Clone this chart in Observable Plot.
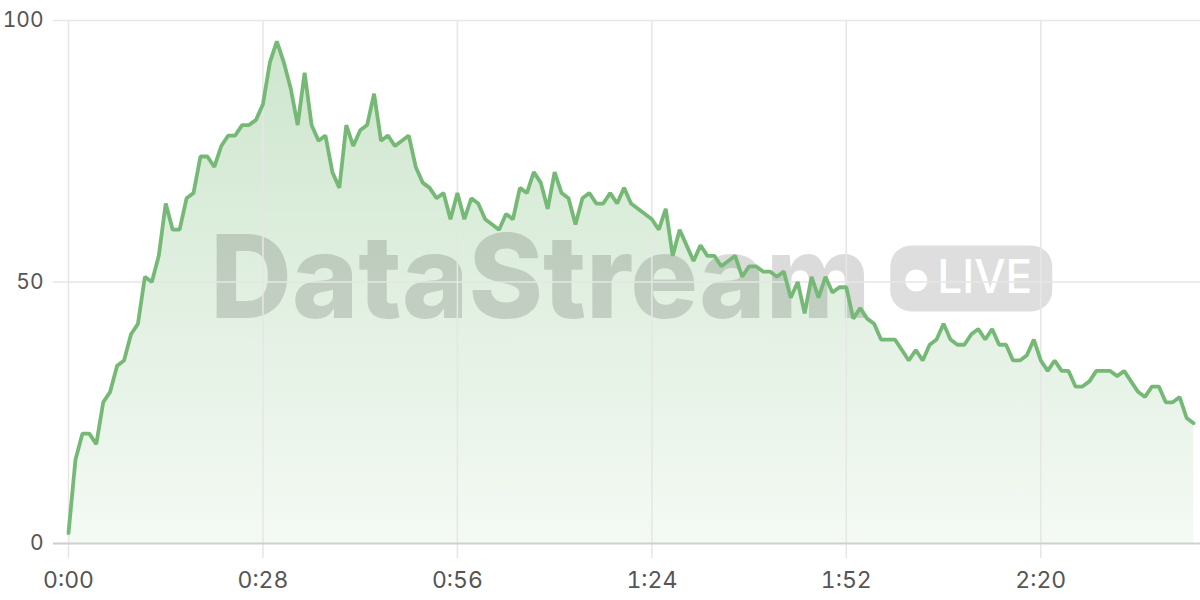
<!DOCTYPE html>
<html>
<head>
<meta charset="utf-8">
<script src="https://cdn.jsdelivr.net/npm/d3@7"></script>
<script src="https://cdn.jsdelivr.net/npm/@observablehq/plot@0.6"></script>
<style>
  html, body { margin: 0; padding: 0; background: #ffffff; }
  #chart { width: 1200px; height: 600px; }
</style>
</head>
<body>
<div id="chart"></div>
<script>
// elapsed seconds, one sample per second
const seconds = d3.range(0, 163);
const values = [
  2, 16, 21, 21, 19, 27, 29, 34, 35, 40,
  42, 51, 50, 55, 65, 60, 60, 66, 67, 74,
  74, 72, 76, 78, 78, 80, 80, 81, 84, 92,
  96, 92, 87, 80, 90, 80, 77, 78, 71, 68,
  80, 76, 79, 80, 86, 77, 78, 76, 77, 78,
  72, 69, 68, 66, 67, 62, 67, 62, 66, 65,
  62, 61, 60, 63, 62, 68, 67, 71, 69, 64,
  71, 67, 66, 61, 66, 67, 65, 65, 67, 65,
  68, 65, 64, 63, 62, 60, 64, 55, 60, 57,
  54, 57, 55, 55, 53, 54, 55, 51, 53, 53,
  52, 52, 51, 52, 47, 50, 44, 51, 47, 51,
  48, 49, 49, 43, 45, 43, 42, 39, 39, 39,
  37, 35, 37, 35, 38, 39, 42, 39, 38, 38,
  40, 41, 39, 41, 38, 38, 35, 35, 36, 39,
  35, 33, 35, 33, 33, 30, 30, 31, 33, 33,
  33, 32, 33, 31, 29, 28, 30, 30, 27, 27,
  28, 24, 23
];
const xTicks = [0, 28, 56, 84, 112, 140];
const xTickLabels = ["0:00", "0:28", "0:56", "1:24", "1:52", "2:20"];
const yTicks = [0, 50, 100];
const watermarkTitle = "DataStream";
const watermarkBadge = "LIVE";

const data = seconds.map((s, i) => ({ s, v: values[i] }));
const green = "#76b976";
const gridColor = "#e6e6e6";
const textColor = "#555555";

const defsMark = () => {
  const d = d3.create("svg:defs");
  const lg = d.append("linearGradient").attr("id", "areaGrad")
    .attr("x1", 0).attr("y1", 0).attr("x2", 0).attr("y2", 1);
  lg.append("stop").attr("offset", "0%").attr("stop-color", green).attr("stop-opacity", 0.36);
  lg.append("stop").attr("offset", "100%").attr("stop-color", green).attr("stop-opacity", 0.08);
  return d.node();
};

const watermarkMark = (index, scales) => {
  const g = d3.create("svg:g").attr("aria-label", "watermark").attr("text-anchor", "start");
  const x0 = scales.x(20.5), yb = scales.y(43);
  g.append("text")
    .attr("x", x0).attr("y", yb)
    .attr("text-anchor", "start")
    .attr("font-family", "Inter, 'DejaVu Sans', sans-serif")
    .attr("font-weight", 800)
    .attr("font-size", 116)
    .attr("textLength", 660)
    .attr("lengthAdjust", "spacingAndGlyphs")
    .attr("fill", "rgba(0,0,0,0.14)")
    .text(watermarkTitle);
  const px = scales.x(118.4), py = scales.y(56.9);
  g.append("rect")
    .attr("x", px).attr("y", py).attr("width", 162).attr("height", 66)
    .attr("rx", 21).attr("ry", 21)
    .attr("fill", "rgba(0,0,0,0.13)");
  g.append("circle")
    .attr("cx", px + 26).attr("cy", py + 35).attr("r", 11)
    .attr("fill", "#ffffff");
  g.append("text")
    .attr("x", px + 47).attr("y", py + 48)
    .attr("text-anchor", "start")
    .attr("font-family", "Inter, 'DejaVu Sans', sans-serif")
    .attr("font-weight", 500)
    .attr("font-size", 46)
    .attr("textLength", 95)
    .attr("lengthAdjust", "spacingAndGlyphs")
    .attr("fill", "#ffffff")
    .text(watermarkBadge);
  return g.node();
};

const chart = Plot.plot({
  width: 1200,
  height: 600,
  marginTop: 20,
  marginBottom: 57,
  marginLeft: 68,
  marginRight: 0,
  style: { fontFamily: "Inter, 'Noto Sans', sans-serif", fontSize: "21px", background: "#ffffff", color: textColor },
  x: { domain: [0, 163], axis: null, label: null },
  y: { domain: [0, 100], axis: null, label: null },
  marks: [
    defsMark,
    Plot.areaY(data, { x: "s", y: "v", fill: "url(#areaGrad)", curve: "linear" }),
    watermarkMark,
    Plot.gridX(xTicks, { stroke: gridColor, strokeOpacity: 1, strokeWidth: 1.5 }),
    Plot.gridY([50, 100], { stroke: gridColor, strokeOpacity: 1, strokeWidth: 1.5 }),
    Plot.axisX(xTicks, {
      label: null, tickSize: 15, tickPadding: 13, stroke: gridColor, strokeWidth: 1.5, fill: textColor,
      tickFormat: (d) => xTickLabels[xTicks.indexOf(d)], fontSize: 23
    }),
    Plot.axisY(yTicks, {
      label: null, tickSize: 15, tickPadding: 10, stroke: gridColor, strokeWidth: 1.5, fill: textColor, fontSize: 21
    }),
    Plot.ruleY([0], { stroke: "#cfcfcf", strokeWidth: 2, insetLeft: -15 }),
    Plot.lineY(data, { x: "s", y: "v", stroke: green, strokeWidth: 3.8, strokeLinejoin: "miter", curve: "linear" })
  ]
});
document.getElementById("chart").appendChild(chart);
</script>
</body>
</html>
